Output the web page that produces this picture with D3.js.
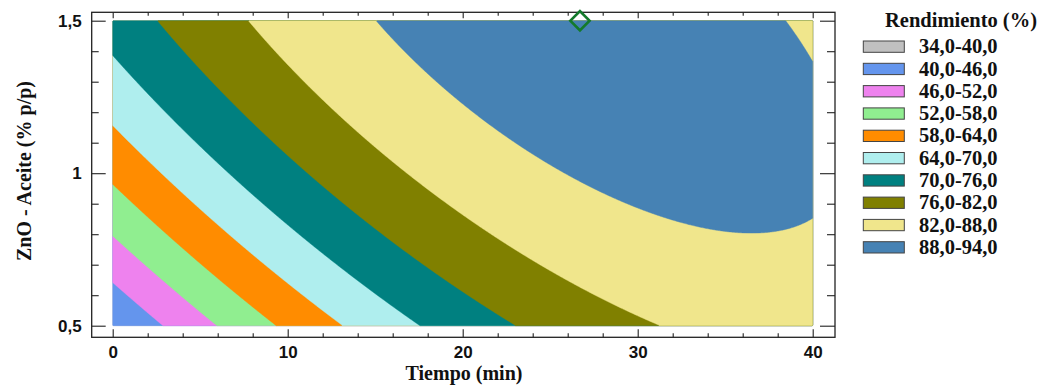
<!DOCTYPE html>
<html>
<head>
<meta charset="utf-8">
<script src="https://cdn.jsdelivr.net/npm/d3@7"></script>
<style>
  body { margin: 0; background: #fff; }
  svg { display: block; }
</style>
</head>
<body>
<svg id="chart" width="1038" height="387"></svg>
<script>
// Fitted second-order surface for the yield:
// Rendimiento = b0 + b1*t + b2*c + b11*t^2 + b22*c^2 + b12*t*c
// t = Tiempo (min), c = ZnO - Aceite (% p/p)
const modelTerms = ["b0", "b1", "b2", "b11", "b22", "b12"];
const modelCoefs = [14.8, 2.555, 56.25, -0.02675, -11.85, -0.749];

const levelBreaks = [34, 40, 46, 52, 58, 64, 70, 76, 82, 88, 94];
const levelLabels = ["34,0-40,0", "40,0-46,0", "46,0-52,0", "52,0-58,0", "58,0-64,0",
                     "64,0-70,0", "70,0-76,0", "76,0-82,0", "82,0-88,0", "88,0-94,0"];
const levelColors = ["#c0c0c0", "#6495ed", "#ee82ee", "#90ee90", "#ff8c00",
                     "#afeeee", "#008080", "#808000", "#f0e68c", "#4682b4"];

const timeDomain = [0, 40];
const oilDomain = [0.5, 1.5];
const xTickValues = [0, 10, 20, 30, 40];
const xTickLabels = ["0", "10", "20", "30", "40"];
const xMinorTicks = [2, 4, 6, 8, 12, 14, 16, 18, 22, 24, 26, 28, 32, 34, 36, 38];
const yTickValues = [0.5, 1, 1.5];
const yTickLabels = ["0,5", "1", "1,5"];
const yMinorTicks = [0.6, 0.7, 0.8, 0.9, 1.1, 1.2, 1.3, 1.4];
const optimumPoint = [26.7, 1.5];

const svg = d3.select("#chart");
const serif = "'Liberation Serif', 'Times New Roman', serif";
const sans = "'Liberation Sans', Arial, sans-serif";

const x = d3.scaleLinear().domain(timeDomain).range([112.7, 812.7]);
const y = d3.scaleLinear().domain(oilDomain).range([325.7, 20.7]);

function yieldAt(t, c) {
  const [b0, b1, b2, b11, b22, b12] = modelCoefs;
  return b0 + b1 * t + b2 * c + b11 * t * t + b22 * c * c + b12 * t * c;
}

// Evaluate the surface on a one-pixel grid covering the plotting region
const gx0 = x(timeDomain[0]), gy0 = y(oilDomain[1]);
const nx = Math.round(x(timeDomain[1]) - gx0);
const ny = Math.round(y(oilDomain[0]) - gy0);
const values = new Float64Array(nx * ny);
for (let j = 0; j < ny; j++) {
  const c = y.invert(gy0 + j + 0.5);
  for (let i = 0; i < nx; i++) {
    values[j * nx + i] = yieldAt(x.invert(gx0 + i + 0.5), c);
  }
}

const bands = d3.contours()
  .size([nx, ny])
  .smooth(true)
  .thresholds(levelBreaks.slice(0, -1))(values);

const toScreen = d3.geoTransform({
  point(px, py) { this.stream.point(gx0 + px * (x(timeDomain[1]) - gx0) / nx,
                                    gy0 + py * (y(oilDomain[0]) - gy0) / ny); }
});
const path = d3.geoPath(toScreen);

svg.append("g")
  .selectAll("path")
  .data(bands)
  .join("path")
  .attr("d", path)
  .attr("fill", (d, i) => levelColors[i])
  .attr("stroke", (d, i) => levelColors[i])
  .attr("stroke-width", 0.4);

// Frame and ticks
const frame = { left: 91.7, top: 12.3, right: 835, bottom: 337.3 };
svg.append("rect")
  .attr("x", frame.left).attr("y", frame.top)
  .attr("width", frame.right - frame.left)
  .attr("height", frame.bottom - frame.top)
  .attr("fill", "none").attr("stroke", "#222").attr("stroke-width", 1.3);

function styleAxis(g) {
  g.select(".domain").remove();
  g.selectAll(".tick line").attr("stroke", "#222").attr("stroke-width", 1.1);
  g.selectAll("text").attr("fill", "#111").attr("font-family", sans)
    .attr("font-weight", "bold").attr("font-size", 17);
}

svg.append("g").attr("transform", `translate(0,${frame.bottom})`)
  .call(d3.axisBottom(x).tickValues(xTickValues)
    .tickFormat((d, i) => xTickLabels[i]).tickSizeInner(-8).tickSizeOuter(0).tickPadding(9))
  .call(styleAxis);
svg.append("g").attr("transform", `translate(0,${frame.bottom})`)
  .call(d3.axisBottom(x).tickValues(xMinorTicks).tickFormat("").tickSizeInner(-4).tickSizeOuter(0))
  .call(styleAxis);
svg.append("g").attr("transform", `translate(0,${frame.top})`)
  .call(d3.axisTop(x).tickValues(xTickValues).tickFormat("").tickSizeInner(-6).tickSizeOuter(0))
  .call(styleAxis);
svg.append("g").attr("transform", `translate(0,${frame.top})`)
  .call(d3.axisTop(x).tickValues(xMinorTicks).tickFormat("").tickSizeInner(-3.5).tickSizeOuter(0))
  .call(styleAxis);

svg.append("g").attr("transform", `translate(${frame.left},0)`)
  .call(d3.axisLeft(y).tickValues(yTickValues)
    .tickFormat((d, i) => yTickLabels[i]).tickSizeInner(-14).tickSizeOuter(0).tickPadding(10))
  .call(styleAxis);
svg.append("g").attr("transform", `translate(${frame.left},0)`)
  .call(d3.axisLeft(y).tickValues(yMinorTicks).tickFormat("").tickSizeInner(-7).tickSizeOuter(0))
  .call(styleAxis);
svg.append("g").attr("transform", `translate(${frame.right},0)`)
  .call(d3.axisRight(y).tickValues(yTickValues).tickFormat("").tickSizeInner(-15).tickSizeOuter(0))
  .call(styleAxis);
svg.append("g").attr("transform", `translate(${frame.right},0)`)
  .call(d3.axisRight(y).tickValues(yMinorTicks).tickFormat("").tickSizeInner(-8).tickSizeOuter(0))
  .call(styleAxis);

// Optimum marker
svg.append("path")
  .attr("d", d3.symbol(d3.symbolSquare, 185)())
  .attr("transform", `translate(${x(optimumPoint[0])},${y(optimumPoint[1])}) rotate(45)`)
  .attr("fill", "none").attr("stroke", "#137a2b").attr("stroke-width", 2.6);

// Axis titles
svg.append("text")
  .attr("x", 464).attr("y", 380)
  .attr("text-anchor", "middle")
  .attr("font-family", serif).attr("font-weight", "bold").attr("font-size", 20)
  .attr("fill", "#111")
  .text("Tiempo (min)");
svg.append("text")
  .attr("transform", "translate(31,171) rotate(-90)")
  .attr("text-anchor", "middle")
  .attr("font-family", serif).attr("font-weight", "bold").attr("font-size", 20)
  .attr("fill", "#111")
  .text("ZnO - Aceite (% p/p)");

// Legend
const legend = svg.append("g");
legend.append("text")
  .attr("x", 961).attr("y", 27)
  .attr("text-anchor", "middle")
  .attr("font-family", serif).attr("font-weight", "bold").attr("font-size", 20.5)
  .attr("fill", "#111")
  .text("Rendimiento (%)");
const rows = legend.selectAll("g.row")
  .data(levelLabels)
  .join("g").attr("class", "row")
  .attr("transform", (d, i) => `translate(0,${i * 22.3})`);
rows.append("rect")
  .attr("x", 863.3).attr("y", 41)
  .attr("width", 41).attr("height", 11.3)
  .attr("fill", (d, i) => levelColors[i])
  .attr("stroke", "#444").attr("stroke-width", 1);
rows.append("text")
  .attr("x", 919).attr("y", 53.3)
  .attr("font-family", serif).attr("font-weight", "bold").attr("font-size", 20.5)
  .attr("fill", "#111")
  .text(d => d);
</script>
</body>
</html>
